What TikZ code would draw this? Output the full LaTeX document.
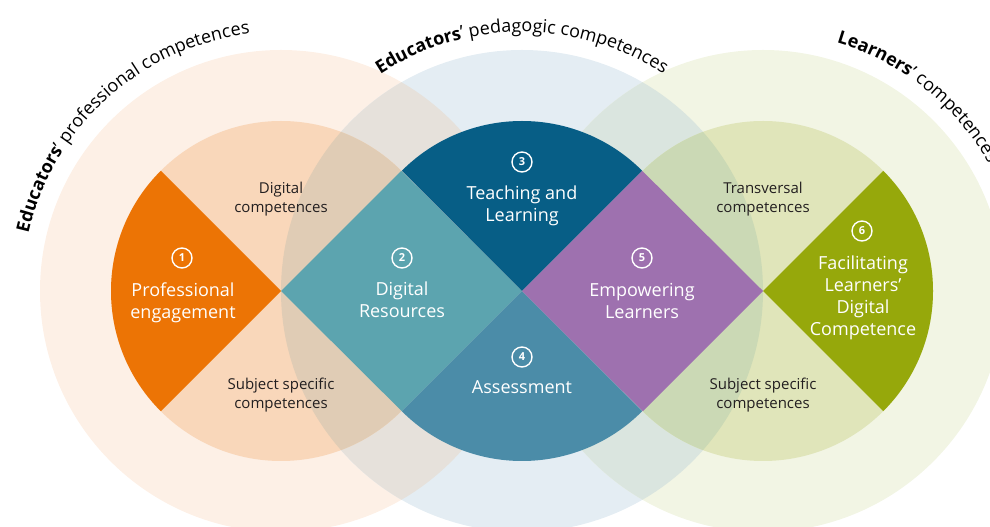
\documentclass[tikz,border=0pt]{standalone}
\usepackage{fontspec}
\setmainfont{Open Sans}
\usetikzlibrary{decorations.text}

% ring colours (plain and where two rings overlap)
\definecolor{proflight}{RGB}{253,240,230}
\definecolor{profmid}{RGB}{249,215,186}
\definecolor{pedlight}{RGB}{228,237,243}
\definecolor{learnlight}{RGB}{242,245,228}
\definecolor{learnmid}{RGB}{224,229,186}
\definecolor{profped}{RGB}{230,225,219}
\definecolor{profmidped}{RGB}{224,204,181}
\definecolor{pedlearn}{RGB}{218,229,223}
\definecolor{pedlearnmid}{RGB}{203,217,181}
% the six areas
\definecolor{engage}{RGB}{236,116,5}
\definecolor{resource}{RGB}{92,164,175}
\definecolor{teach}{RGB}{7,94,134}
\definecolor{assess}{RGB}{75,140,168}
\definecolor{empower}{RGB}{158,113,175}
\definecolor{facil}{RGB}{150,168,11}
\definecolor{ink}{RGB}{35,31,32}

\newcommand\arcfont{\fontsize{18}{21}\selectfont}

\begin{document}
\begin{tikzpicture}[x=1pt, y=1pt,
		badge/.style={circle, draw=white, line width=1.4pt, minimum size=20pt, inner sep=0pt, text=white, font=\fontsize{11}{11}\selectfont\bfseries},
		areatext/.style={align=center, text=white, font=\fontsize{18}{22}\selectfont},
		ringtext/.style={align=center, text=ink, font=\fontsize{15}{18.5}\selectfont}]
			\useasboundingbox (0,0) rectangle (990,527);
			\coordinate (L) at (281,236);
			\coordinate (M) at (522,236);
			\coordinate (R) at (763,236);

			% outer rings
			\fill[proflight] (L) circle (241);
			\fill[pedlight] (M) circle (241);
			\fill[learnlight] (R) circle (241);
			\begin{scope}
				\clip (M) circle (241);
				\fill[profped] (L) circle (241);
				\fill[pedlearn] (R) circle (241);
			\end{scope}

			% inner rings
			\fill[profmid] (L) circle (170);
			\fill[learnmid] (R) circle (170);
			\begin{scope}
				\clip (M) circle (241);
				\fill[profmidped] (L) circle (170);
				\fill[pedlearnmid] (R) circle (170);
			\end{scope}

			% the six areas
			\fill[engage] (L) -- ([shift={(135:170)}]L) arc (135:225:170) -- cycle;
			\fill[resource] (L) -- ([shift={(45:170)}]L) -- (M) -- ([shift={(225:170)}]M) -- cycle;
			\fill[teach] (M) -- ([shift={(45:170)}]M) arc (45:135:170) -- cycle;
			\fill[assess] (M) -- ([shift={(225:170)}]M) arc (225:315:170) -- cycle;
			\fill[empower] (M) -- ([shift={(45:170)}]M) -- (R) -- ([shift={(225:170)}]R) -- cycle;
			\fill[facil] (R) -- ([shift={(-45:170)}]R) arc (-45:45:170) -- cycle;

			\node[badge] (n1) at (182,269) {1};
			\node[badge] (n2) at (402,269) {2};
			\node[badge] (n3) at (522,365) {3};
			\node[badge] (n4) at (522,170) {4};
			\node[badge] (n5) at (642,269) {5};
			\node[badge] (n6) at (862,296) {6};

			\node[areatext] (engagement) at (183,224) {Professional\\engagement};
			\node[areatext] (resources) at (402,227) {Digital\\Resources};
			\node[areatext] (teaching) at (522,321) {Teaching and\\Learning};
			\node[areatext] (assessment) at (522,140) {Assessment};
			\node[areatext] (empowering) at (642,226) {Empowering\\Learners};
			\node[areatext] (facilitating) at (863,229) {Facilitating\\Learners’\\Digital\\Competence};

			\node[ringtext] (digital) at (281,328) {Digital\\competences};
			\node[ringtext] (subjectL) at (281,132) {Subject specific\\competences};
			\node[ringtext] (transversal) at (763,328) {Transversal\\competences};
			\node[ringtext] (subjectR) at (763,132) {Subject specific\\competences};

			% titles along the rings
			\path[decorate, decoration={text along path, text align=center,
				text={|\arcfont\bfseries|Educators|\arcfont\mdseries|’ professional competences}}]
				([shift={(200:259)}]L) arc (200:64:259);
			\path[decorate, decoration={text along path, text align=center,
				text={|\arcfont\bfseries|Educators|\arcfont\mdseries|’ pedagogic competences}}]
				([shift={(160:259)}]M) arc (160:20:259);
			\path[decorate, decoration={text along path, text align=left,
				text={|\arcfont\bfseries|Learners|\arcfont\mdseries|’ competences}}]
				([shift={(73.5:259)}]R) arc (73.5:-20:259);
		\end{tikzpicture}
\end{document}
